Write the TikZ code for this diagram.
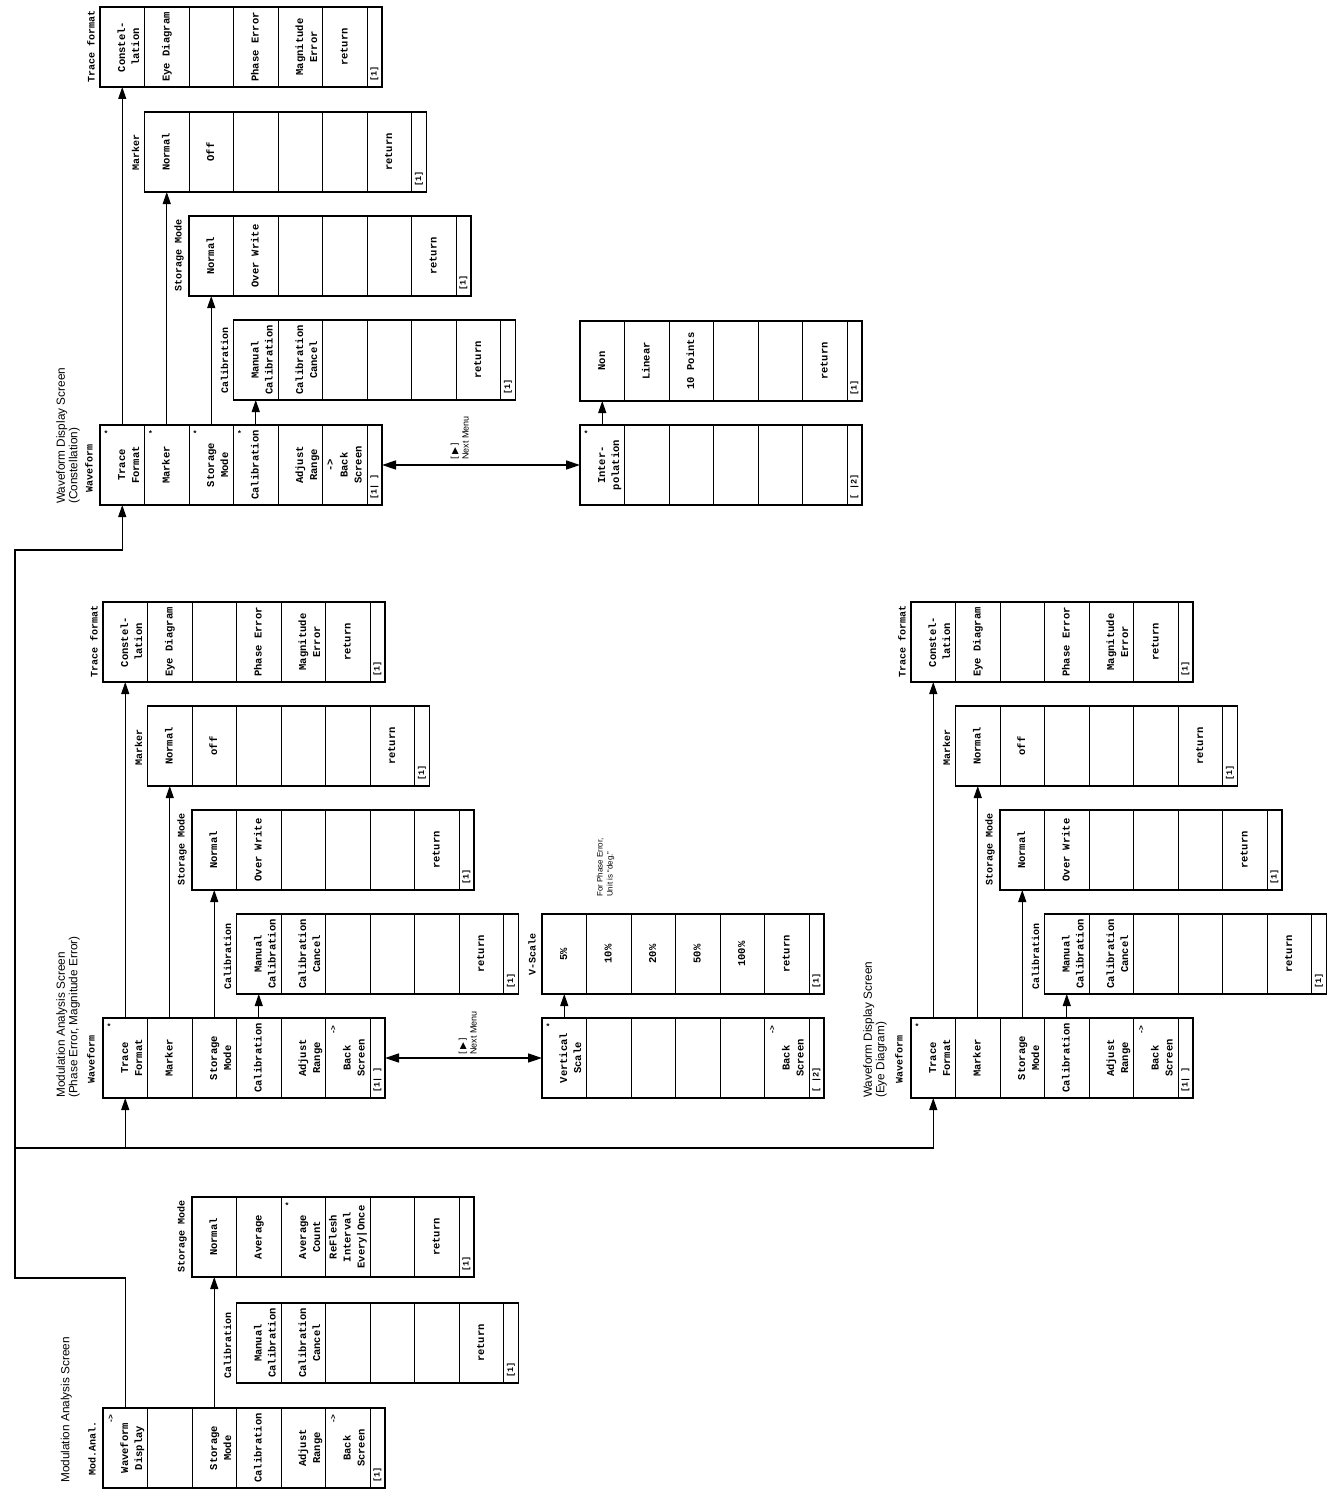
\documentclass[tikz,border=0pt]{standalone}
\usepackage{fontspec}
\usepackage{graphicx}
\setmonofont{Liberation Mono}
\newfontfamily\titlefont{Liberation Sans}
\newfontfamily\symfont{DejaVu Sans}
\usepackage{tikz}
\usetikzlibrary{arrows.meta, positioning, calc}

\begin{document}
\begin{tikzpicture}[
        x=1pt, y=-1pt,
        cell/.style={draw, line width=0.7pt, minimum width=44.5pt, minimum height=80pt, inner sep=0pt, outer sep=0pt, font=\ttfamily\bfseries\fontsize{10.5}{14}\selectfont},
        pgcell/.style={draw, line width=0.7pt, minimum width=15pt, minimum height=80pt, inner sep=0pt, outer sep=0pt},
        pg/.style={rotate=90, anchor=west, inner sep=0pt, font=\ttfamily\bfseries\fontsize{8.5}{10}\selectfont},
        starmark/.style={inner sep=0pt, font=\ttfamily\bfseries\fontsize{8}{8}\selectfont},
        gomark/.style={rotate=90, inner sep=0pt, font=\ttfamily\bfseries\fontsize{8}{8}\selectfont},
        lbl/.style={rotate=90, anchor=south west, inner sep=2pt, font=\ttfamily\bfseries\fontsize{10}{12}\selectfont},
        ttl/.style={rotate=90, anchor=south west, align=left, inner sep=0pt, font=\titlefont\fontsize{11.8}{12.5}\selectfont},
        nxt/.style={rotate=90, anchor=south west, align=left, inner sep=0pt, font=\titlefont\fontsize{9}{11}\selectfont},
        note/.style={rotate=90, anchor=south west, align=left, inner sep=0pt, font=\titlefont\fontsize{8}{10}\selectfont},
        menuframe/.style={line width=1.6pt},
        conn/.style={line width=1.2pt, -{Triangle[length=12pt, width=8pt]}},
        dconn/.style={line width=1.6pt, {Triangle[length=14pt, width=9pt]}-{Triangle[length=14pt, width=9pt]}}
    ]
    \useasboundingbox (0,0) rectangle (1330,1490);

    % ---------- Modulation Analysis Screen ----------
    \foreach \txt [count=\i] in {{\strut\\Waveform\\Display},{},{\strut\\Storage\\Mode},Calibration,{\strut\\Adjust\\Range},{\strut\\Back\\Screen}}
        \node[cell] (ma-\i) at ({103+(\i-0.5)*44.5}, 1448) {\rotatebox{90}{\begin{tabular}{@{}c@{}}\txt\end{tabular}}};
    \node[pgcell, right=0pt of ma-6] (ma-7) {};
    \node[pg] (ma-p) at ($(ma-7.south)+(0,-5)$) {[1]};
    \draw[menuframe] (ma-1.south west) rectangle (ma-7.north east);
    \node[gomark] (ma-g1) at ($(ma-1.north west)+(8,11)$) {->};
    \node[gomark] (ma-g6) at ($(ma-6.north west)+(8,11)$) {->};
    \node[lbl] (ma-l) at ($(ma-1.south west)+(-5,-10)$) {Mod.Anal.};
    \node[ttl] (ma-t) at ($(ma-1.south west)+(-31,-5)$) {Modulation Analysis Screen};

    % Storage Mode
    \foreach \txt [count=\i] in {Normal,Average,{\strut\\Average\\Count},{ReFlesh\\Interval\\Every|Once},{},return}
        \node[cell] (masto-\i) at ({192+(\i-0.5)*44.5}, 1237) {\rotatebox{90}{\begin{tabular}{@{}c@{}}\txt\end{tabular}}};
    \node[pgcell, right=0pt of masto-6] (masto-7) {};
    \node[pg] (masto-p) at ($(masto-7.south)+(0,-5)$) {[1]};
    \draw[menuframe] (masto-1.south west) rectangle (masto-7.north east);
    \node[starmark] (masto-s3) at ($(masto-3.north west)+(6,9)$) {*};
    \node[lbl] (masto-l) at ($(masto-1.south west)+(-3,-2)$) {Storage Mode};

    % Calibration
    \foreach \txt [count=\i] in {{\strut\\Manual\\Calibration},{\strut\\Calibration\\Cancel},{},{},{},return}
        \node[cell] (macal-\i) at ({236.5+(\i-0.5)*44.5}, 1343) {\rotatebox{90}{\begin{tabular}{@{}c@{}}\txt\end{tabular}}};
    \node[pgcell, right=0pt of macal-6] (macal-7) {};
    \node[pg] (macal-p) at ($(macal-7.south)+(0,-5)$) {[1]};
    \draw[menuframe] (macal-1.south west) rectangle (macal-7.north east);
    \node[lbl] (macal-l) at ($(macal-1.south west)+(-3,-2)$) {Calibration};

    % ---------- Modulation Analysis Screen (Phase Error, Magnitude Error) ----------
    \foreach \txt [count=\i] in {{\strut\\Trace\\Format},Marker,{\strut\\Storage\\Mode},Calibration,{\strut\\Adjust\\Range},{\strut\\Back\\Screen}}
        \node[cell] (wfb-\i) at ({103+(\i-0.5)*44.5}, 1058) {\rotatebox{90}{\begin{tabular}{@{}c@{}}\txt\end{tabular}}};
    \node[pgcell, right=0pt of wfb-6] (wfb-7) {};
    \node[pg] (wfb-p) at ($(wfb-7.south)+(0,-5)$) {[1|~]};
    \draw[menuframe] (wfb-1.south west) rectangle (wfb-7.north east);
    \node[starmark] (wfb-s1) at ($(wfb-1.north west)+(6,9)$) {*};
    \node[gomark] (wfb-g6) at ($(wfb-6.north west)+(8,12)$) {->};
    \node[lbl] (wfb-l) at ($(wfb-1.south west)+(-6,-12)$) {Waveform};
    \node[ttl] (wfb-t) at ($(wfb-1.south west)+(-23,0)$) {Modulation Analysis Screen\\(Phase Error, Magnitude Error)};

    % Calibration
    \foreach \txt [count=\i] in {{\strut\\Manual\\Calibration},{\strut\\Calibration\\Cancel},{},{},{},return}
        \node[cell] (wfbcal-\i) at ({236.5+(\i-0.5)*44.5}, 954) {\rotatebox{90}{\begin{tabular}{@{}c@{}}\txt\end{tabular}}};
    \node[pgcell, right=0pt of wfbcal-6] (wfbcal-7) {};
    \node[pg] (wfbcal-p) at ($(wfbcal-7.south)+(0,-5)$) {[1]};
    \draw[menuframe] (wfbcal-1.south west) rectangle (wfbcal-7.north east);
    \node[lbl] (wfbcal-l) at ($(wfbcal-1.south west)+(-3,-2)$) {Calibration};

    % Storage Mode
    \foreach \txt [count=\i] in {Normal,{Over Write},{},{},{},return}
        \node[cell] (wfbsto-\i) at ({192+(\i-0.5)*44.5}, 850) {\rotatebox{90}{\begin{tabular}{@{}c@{}}\txt\end{tabular}}};
    \node[pgcell, right=0pt of wfbsto-6] (wfbsto-7) {};
    \node[pg] (wfbsto-p) at ($(wfbsto-7.south)+(0,-5)$) {[1]};
    \draw[menuframe] (wfbsto-1.south west) rectangle (wfbsto-7.north east);
    \node[lbl] (wfbsto-l) at ($(wfbsto-1.south west)+(-3,-2)$) {Storage Mode};

    % Marker
    \foreach \txt [count=\i] in {Normal,off,{},{},{},return}
        \node[cell] (wfbmk-\i) at ({147.5+(\i-0.5)*44.5}, 746) {\rotatebox{90}{\begin{tabular}{@{}c@{}}\txt\end{tabular}}};
    \node[pgcell, right=0pt of wfbmk-6] (wfbmk-7) {};
    \node[pg] (wfbmk-p) at ($(wfbmk-7.south)+(0,-5)$) {[1]};
    \draw[menuframe] (wfbmk-1.south west) rectangle (wfbmk-7.north east);
    \node[lbl] (wfbmk-l) at ($(wfbmk-1.south west)+(-3,-18)$) {Marker};

    % Trace format
    \foreach \txt [count=\i] in {{\strut\\Constel-\\lation},{Eye Diagram},{},{Phase Error},{\strut\\Magnitude\\Error},return}
        \node[cell] (wfbtf-\i) at ({103+(\i-0.5)*44.5}, 642) {\rotatebox{90}{\begin{tabular}{@{}c@{}}\txt\end{tabular}}};
    \node[pgcell, right=0pt of wfbtf-6] (wfbtf-7) {};
    \node[pg] (wfbtf-p) at ($(wfbtf-7.south)+(0,-5)$) {[1]};
    \draw[menuframe] (wfbtf-1.south west) rectangle (wfbtf-7.north east);
    \node[lbl] (wfbtf-l) at ($(wfbtf-1.south west)+(-3,-2)$) {Trace format};

    % Next menu: Vertical Scale
    \foreach \txt [count=\i] in {{\strut\\Vertical\\Scale},{},{},{},{},{\strut\\Back\\Screen}}
        \node[cell] (wfbvs-\i) at ({542+(\i-0.5)*44.5}, 1058) {\rotatebox{90}{\begin{tabular}{@{}c@{}}\txt\end{tabular}}};
    \node[pgcell, right=0pt of wfbvs-6] (wfbvs-7) {};
    \node[pg] (wfbvs-p) at ($(wfbvs-7.south)+(0,-5)$) {[~|2]};
    \draw[menuframe] (wfbvs-1.south west) rectangle (wfbvs-7.north east);
    \node[starmark] (wfbvs-s1) at ($(wfbvs-1.north west)+(6,9)$) {*};
    \node[gomark] (wfbvs-g6) at ($(wfbvs-6.north west)+(8,12)$) {->};

    % V-Scale
    \foreach \txt [count=\i] in {5\%,10\%,20\%,50\%,100\%,return}
        \node[cell] (wfbvsc-\i) at ({542+(\i-0.5)*44.5}, 954) {\rotatebox{90}{\begin{tabular}{@{}c@{}}\txt\end{tabular}}};
    \node[pgcell, right=0pt of wfbvsc-6] (wfbvsc-7) {};
    \node[pg] (wfbvsc-p) at ($(wfbvsc-7.south)+(0,-5)$) {[1]};
    \draw[menuframe] (wfbvsc-1.south west) rectangle (wfbvsc-7.north east);
    \node[lbl] (wfbvsc-l) at ($(wfbvsc-1.south west)+(-4,-16)$) {V-Scale};
    \node[note] (wfbvsc-n) at ($(wfbvsc-2.north west)+(28,-17)$) {For Phase Error,\\Unit is “deg.”};

    % ---------- Waveform Display Screen (Eye Diagram) ----------
    \foreach \txt [count=\i] in {{\strut\\Trace\\Format},Marker,{\strut\\Storage\\Mode},Calibration,{\strut\\Adjust\\Range},{\strut\\Back\\Screen}}
        \node[cell] (wfc-\i) at ({911+(\i-0.5)*44.5}, 1058) {\rotatebox{90}{\begin{tabular}{@{}c@{}}\txt\end{tabular}}};
    \node[pgcell, right=0pt of wfc-6] (wfc-7) {};
    \node[pg] (wfc-p) at ($(wfc-7.south)+(0,-5)$) {[1|~]};
    \draw[menuframe] (wfc-1.south west) rectangle (wfc-7.north east);
    \node[starmark] (wfc-s1) at ($(wfc-1.north west)+(6,9)$) {*};
    \node[gomark] (wfc-g6) at ($(wfc-6.north west)+(8,12)$) {->};
    \node[lbl] (wfc-l) at ($(wfc-1.south west)+(-6,-12)$) {Waveform};
    \node[ttl] (wfc-t) at ($(wfc-1.south west)+(-24,0)$) {Waveform Display Screen\\(Eye Diagram)};

    % Calibration
    \foreach \txt [count=\i] in {{\strut\\Manual\\Calibration},{\strut\\Calibration\\Cancel},{},{},{},return}
        \node[cell] (wfccal-\i) at ({1044.5+(\i-0.5)*44.5}, 954) {\rotatebox{90}{\begin{tabular}{@{}c@{}}\txt\end{tabular}}};
    \node[pgcell, right=0pt of wfccal-6] (wfccal-7) {};
    \node[pg] (wfccal-p) at ($(wfccal-7.south)+(0,-5)$) {[1]};
    \draw[menuframe] (wfccal-1.south west) rectangle (wfccal-7.north east);
    \node[lbl] (wfccal-l) at ($(wfccal-1.south west)+(-3,-2)$) {Calibration};

    % Storage Mode
    \foreach \txt [count=\i] in {Normal,{Over Write},{},{},{},return}
        \node[cell] (wfcsto-\i) at ({1000+(\i-0.5)*44.5}, 850) {\rotatebox{90}{\begin{tabular}{@{}c@{}}\txt\end{tabular}}};
    \node[pgcell, right=0pt of wfcsto-6] (wfcsto-7) {};
    \node[pg] (wfcsto-p) at ($(wfcsto-7.south)+(0,-5)$) {[1]};
    \draw[menuframe] (wfcsto-1.south west) rectangle (wfcsto-7.north east);
    \node[lbl] (wfcsto-l) at ($(wfcsto-1.south west)+(-3,-2)$) {Storage Mode};

    % Marker
    \foreach \txt [count=\i] in {Normal,off,{},{},{},return}
        \node[cell] (wfcmk-\i) at ({955.5+(\i-0.5)*44.5}, 746) {\rotatebox{90}{\begin{tabular}{@{}c@{}}\txt\end{tabular}}};
    \node[pgcell, right=0pt of wfcmk-6] (wfcmk-7) {};
    \node[pg] (wfcmk-p) at ($(wfcmk-7.south)+(0,-5)$) {[1]};
    \draw[menuframe] (wfcmk-1.south west) rectangle (wfcmk-7.north east);
    \node[lbl] (wfcmk-l) at ($(wfcmk-1.south west)+(-3,-18)$) {Marker};

    % Trace format
    \foreach \txt [count=\i] in {{\strut\\Constel-\\lation},{Eye Diagram},{},{Phase Error},{\strut\\Magnitude\\Error},return}
        \node[cell] (wfctf-\i) at ({911+(\i-0.5)*44.5}, 642) {\rotatebox{90}{\begin{tabular}{@{}c@{}}\txt\end{tabular}}};
    \node[pgcell, right=0pt of wfctf-6] (wfctf-7) {};
    \node[pg] (wfctf-p) at ($(wfctf-7.south)+(0,-5)$) {[1]};
    \draw[menuframe] (wfctf-1.south west) rectangle (wfctf-7.north east);
    \node[lbl] (wfctf-l) at ($(wfctf-1.south west)+(-3,-2)$) {Trace format};

    % ---------- Waveform Display Screen (Constellation) ----------
    \foreach \txt [count=\i] in {{\strut\\Trace\\Format},Marker,{\strut\\Storage\\Mode},Calibration,{\strut\\Adjust\\Range},{->\\Back\\Screen}}
        \node[cell] (wfd-\i) at ({100+(\i-0.5)*44.5}, 465) {\rotatebox{90}{\begin{tabular}{@{}c@{}}\txt\end{tabular}}};
    \node[pgcell, right=0pt of wfd-6] (wfd-7) {};
    \node[pg] (wfd-p) at ($(wfd-7.south)+(0,-5)$) {[1|~]};
    \draw[menuframe] (wfd-1.south west) rectangle (wfd-7.north east);
    \foreach \i in {1,...,4}
        \node[starmark] (wfd-s\i) at ($(wfd-\i.north west)+(6,9)$) {*};
    \node[lbl] (wfd-l) at ($(wfd-1.south west)+(-5,-10)$) {Waveform};
    \node[ttl] (wfd-t) at ($(wfd-1.south west)+(-20,-1)$) {Waveform Display Screen\\(Constellation)};

    % Calibration
    \foreach \txt [count=\i] in {{\strut\\Manual\\Calibration},{\strut\\Calibration\\Cancel},{},{},{},return}
        \node[cell] (wfdcal-\i) at ({233.5+(\i-0.5)*44.5}, 360) {\rotatebox{90}{\begin{tabular}{@{}c@{}}\txt\end{tabular}}};
    \node[pgcell, right=0pt of wfdcal-6] (wfdcal-7) {};
    \node[pg] (wfdcal-p) at ($(wfdcal-7.south)+(0,-5)$) {[1]};
    \draw[menuframe] (wfdcal-1.south west) rectangle (wfdcal-7.north east);
    \node[lbl] (wfdcal-l) at ($(wfdcal-1.south west)+(-3,-4)$) {Calibration};

    % Storage Mode
    \foreach \txt [count=\i] in {Normal,{Over Write},{},{},{},return}
        \node[cell] (wfdsto-\i) at ({189+(\i-0.5)*44.5}, 256) {\rotatebox{90}{\begin{tabular}{@{}c@{}}\txt\end{tabular}}};
    \node[pgcell, right=0pt of wfdsto-6] (wfdsto-7) {};
    \node[pg] (wfdsto-p) at ($(wfdsto-7.south)+(0,-5)$) {[1]};
    \draw[menuframe] (wfdsto-1.south west) rectangle (wfdsto-7.north east);
    \node[lbl] (wfdsto-l) at ($(wfdsto-1.south west)+(-3,-2)$) {Storage Mode};

    % Marker
    \foreach \txt [count=\i] in {Normal,Off,{},{},{},return}
        \node[cell] (wfdmk-\i) at ({144.5+(\i-0.5)*44.5}, 152) {\rotatebox{90}{\begin{tabular}{@{}c@{}}\txt\end{tabular}}};
    \node[pgcell, right=0pt of wfdmk-6] (wfdmk-7) {};
    \node[pg] (wfdmk-p) at ($(wfdmk-7.south)+(0,-5)$) {[1]};
    \draw[menuframe] (wfdmk-1.south west) rectangle (wfdmk-7.north east);
    \node[lbl] (wfdmk-l) at ($(wfdmk-1.south west)+(-3,-19)$) {Marker};

    % Trace format
    \foreach \txt [count=\i] in {{\strut\\Constel-\\lation},{Eye Diagram},{},{Phase Error},{\strut\\Magnitude\\Error},return}
        \node[cell] (wfdtf-\i) at ({100+(\i-0.5)*44.5}, 47) {\rotatebox{90}{\begin{tabular}{@{}c@{}}\txt\end{tabular}}};
    \node[pgcell, right=0pt of wfdtf-6] (wfdtf-7) {};
    \node[pg] (wfdtf-p) at ($(wfdtf-7.south)+(0,-5)$) {[1]};
    \draw[menuframe] (wfdtf-1.south west) rectangle (wfdtf-7.north east);
    \node[lbl] (wfdtf-l) at ($(wfdtf-1.south west)+(-3,-2)$) {Trace format};

    % Next menu: Interpolation
    \foreach \txt [count=\i] in {{\strut\\Inter-\\polation},{},{},{},{},{}}
        \node[cell] (wfdip-\i) at ({580+(\i-0.5)*44.5}, 465) {\rotatebox{90}{\begin{tabular}{@{}c@{}}\txt\end{tabular}}};
    \node[pgcell, right=0pt of wfdip-6] (wfdip-7) {};
    \node[pg] (wfdip-p) at ($(wfdip-7.south)+(0,-5)$) {[~|2]};
    \draw[menuframe] (wfdip-1.south west) rectangle (wfdip-7.north east);
    \node[starmark] (wfdip-s1) at ($(wfdip-1.north west)+(6,9)$) {*};

    % Interpolation choices
    \foreach \txt [count=\i] in {Non,Linear,{10 Points},{},{},return}
        \node[cell] (wfdin-\i) at ({580+(\i-0.5)*44.5}, 361) {\rotatebox{90}{\begin{tabular}{@{}c@{}}\txt\end{tabular}}};
    \node[pgcell, right=0pt of wfdin-6] (wfdin-7) {};
    \node[pg] (wfdin-p) at ($(wfdin-7.south)+(0,-5)$) {[1]};
    \draw[menuframe] (wfdin-1.south west) rectangle (wfdin-7.north east);

    % ---------- Connectors ----------
    \coordinate (j1) at (15, 1278);
    \coordinate (j2) at (15, 1148);
    \coordinate (j3) at (15, 550);
    \draw[conn] (ma-1.north) |- (j1) -- (j3) -| (wfd-1.south);
    \draw[conn] (j2) -| (wfc-1.south);
    \draw[conn] (j2 -| wfb-1.south) -- (wfb-1.south);

    \draw[conn] (ma-3.north) -- (masto-1.south);

    \draw[conn] (wfb-1.north) -- (wfbtf-1.south);
    \draw[conn] (wfb-2.north) -- (wfbmk-1.south);
    \draw[conn] (wfb-3.north) -- (wfbsto-1.south);
    \draw[conn] (wfb-4.north) -- (wfbcal-1.south);
    \draw[conn] (wfbvs-1.north) -- (wfbvsc-1.south);
    \draw[dconn] (wfb-7.east) -- (wfbvs-1.west);
    \node[nxt] (wfb-nm) at ($(wfb-7.east)+(92,-3)$) {{\symfont[\,▶\,]}\\Next Menu};

    \draw[conn] (wfc-1.north) -- (wfctf-1.south);
    \draw[conn] (wfc-2.north) -- (wfcmk-1.south);
    \draw[conn] (wfc-3.north) -- (wfcsto-1.south);
    \draw[conn] (wfc-4.north) -- (wfccal-1.south);

    \draw[conn] (wfd-1.north) -- (wfdtf-1.south);
    \draw[conn] (wfd-2.north) -- (wfdmk-1.south);
    \draw[conn] (wfd-3.north) -- (wfdsto-1.south);
    \draw[conn] (wfd-4.north) -- (wfdcal-1.south);
    \draw[conn] (wfdip-1.north) -- (wfdin-1.south);
    \draw[dconn] (wfd-7.east) -- (wfdip-1.west);
    \node[nxt] (wfd-nm) at ($(wfd-7.east)+(87,-5)$) {{\symfont[\,▶\,]}\\Next Menu};

\end{tikzpicture}
\end{document}
